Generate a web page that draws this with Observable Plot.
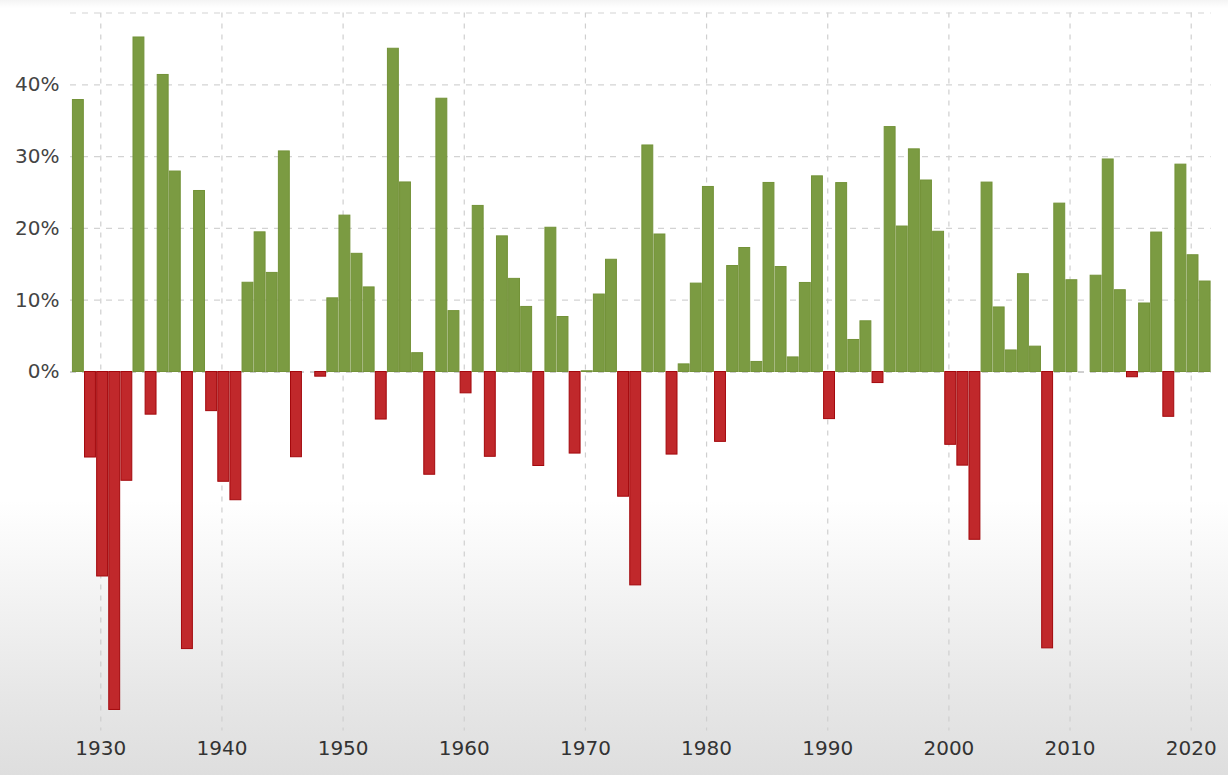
<!DOCTYPE html>
<html>
<head>
<meta charset="utf-8">
<script src="https://cdn.jsdelivr.net/npm/d3@7"></script>
<script src="https://cdn.jsdelivr.net/npm/@observablehq/plot@0.6"></script>
<style>
  html, body { margin: 0; padding: 0; }
  body {
    width: 1228px; height: 775px; overflow: hidden;
    background: linear-gradient(to bottom, #f4f4f4 0px, #ffffff 8px, #ffffff 500px, #e6e6e6 700px, #dedede 775px);
  }
  #chart svg { display: block; }
</style>
</head>
<body>
<div id="chart"></div>
<script>
const years = d3.range(1928, 2022);
const returns = [
  37.88, -11.91, -28.48, -47.07, -15.15, 46.59, -5.94, 41.37, 27.92, -38.59,
  25.21, -5.45, -15.29, -17.86, 12.43, 19.45, 13.80, 30.72, -11.87, 0.00,
  -0.65, 10.26, 21.78, 16.46, 11.78, -6.62, 45.02, 26.40, 2.62, -14.31,
  38.06, 8.48, -2.97, 23.13, -11.81, 18.89, 12.97, 9.06, -13.09, 20.09,
  7.66, -11.36, 0.10, 10.79, 15.63, -17.37, -29.72, 31.55, 19.15, -11.50,
  1.06, 12.31, 25.77, -9.73, 14.76, 17.27, 1.40, 26.33, 14.62, 2.03,
  12.40, 27.25, -6.56, 26.31, 4.46, 7.06, -1.54, 34.11, 20.26, 31.01,
  26.67, 19.53, -10.14, -13.04, -23.37, 26.38, 8.99, 3.00, 13.62, 3.53,
  -38.49, 23.45, 12.78, 0.00, 13.41, 29.60, 11.39, -0.73, 9.54, 19.42,
  -6.24, 28.88, 16.26, 12.60
];
const xTicks = [1930, 1940, 1950, 1960, 1970, 1980, 1990, 2000, 2010, 2020];
const yTicks = [0, 10, 20, 30, 40];
const yGrid = [10, 20, 30, 40, 50];

const data = years.map((year, i) => ({year, value: returns[i]}));

const font = "DejaVu Sans, Verdana, sans-serif";

const chart = Plot.plot({
  width: 1228,
  height: 775,
  marginTop: 12.5,
  marginBottom: 44.5,
  marginLeft: 70,
  marginRight: 17.3,
  style: {background: "transparent", fontFamily: font, fontSize: "20px", color: "#3a3a3a"},
  x: {domain: [1927.5, 2021.65], label: null},
  y: {domain: [-50, 50], label: null},
  marks: [
    Plot.ruleX(xTicks, {x: d => d, y1: 50, y2: -50, stroke: "#cfcfcf", strokeWidth: 1.2, strokeDasharray: "5,6"}),
    Plot.ruleY(yGrid, {y: d => d, stroke: "#d3d3d3", strokeWidth: 1.2, strokeDasharray: "6,6"}),
    Plot.ruleY([0], {stroke: "#a0a0a0", strokeWidth: 1, strokeDasharray: "6,6"}),
    Plot.rectY(data, {
      x1: d => d.year - 0.3,
      x2: d => d.year + 0.6,
      y1: 0,
      y2: d => d.value,
      fill: d => d.value >= 0 ? "#7b9b42" : "#c0282b",
      stroke: d => d.value > 0 ? "#739238" : d.value < 0 ? "#a3080c" : "#9a9a9a",
      strokeWidth: 1
    }),
    Plot.axisX({ticks: xTicks, tickFormat: d => String(d), tickSize: 0, tickPadding: 10, fontSize: 20, fill: "#333"}),
    Plot.axisY({ticks: yTicks, tickFormat: d => d + "%", tickSize: 0, tickPadding: 11, fontSize: 20, fill: "#444"})
  ]
});
document.getElementById("chart").appendChild(chart);
</script>
</body>
</html>
